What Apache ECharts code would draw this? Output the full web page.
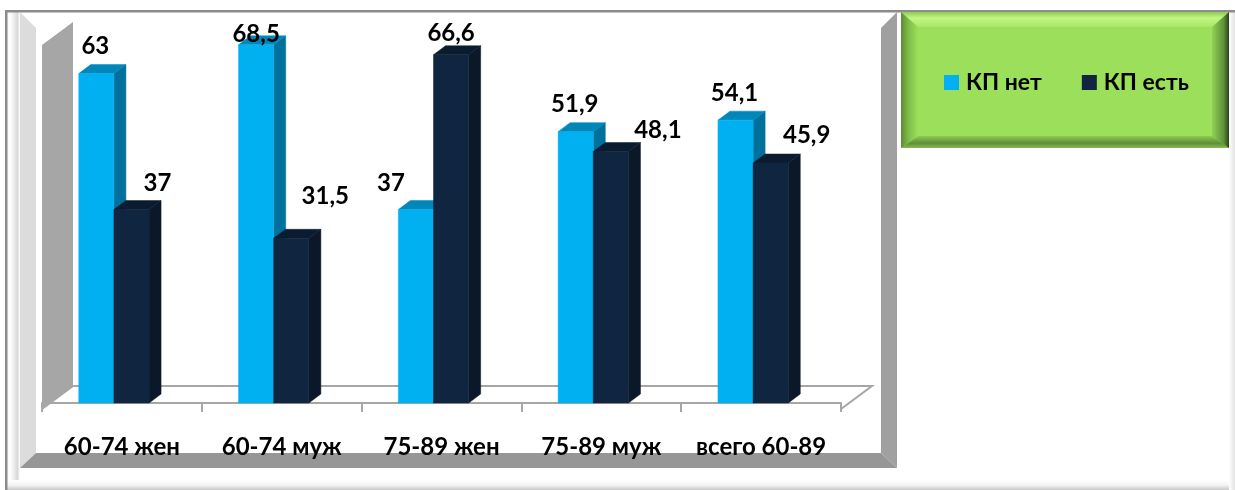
<!DOCTYPE html>
<html>
<head>
<meta charset="utf-8">
<style>html,body{margin:0;padding:0;background:#fff}#chart{width:1235px;height:490px}</style>
<script src="https://cdn.jsdelivr.net/npm/echarts@6/dist/echarts.min.js"></script>
</head>
<body>
<div id="chart"></div>
<script>
// Share of patients with and without the condition, by age group and sex
const categories = ['60-74 жен', '60-74 муж', '75-89 жен', '75-89 муж', 'всего 60-89'];
const seriesNames = ['КП нет', 'КП есть'];
const valuesNo = [63, 68.5, 37, 51.9, 54.1];
const valuesYes = [37, 31.5, 66.6, 48.1, 45.9];

// Hand placement of the value labels around each column
const labelShiftNo = [[-1, -27], [0, -11], [-25, -26], [-1, -27], [-1, -27]];
const labelShiftYes = [[26, -26], [34, -42], [0, -22], [47, -21], [36, -28]];

const FONT = 'Lato, "Noto Sans", sans-serif';
const DEPTH_X = 12, DEPTH_Y = 9;

// Extruded column: front face, lit top, shaded side and its value label
function columnRenderer(faces, side, shifts) {
  return function (params, api) {
    const idx = api.value(0), val = api.value(1);
    const top = api.coord([idx, val]);
    const base = api.coord([idx, 0]);
    const band = api.size([1, 0])[0];
    const w = band * 0.22;
    const seam = top[0] - band * 0.05;
    const x = side < 0 ? seam - w : seam;
    const yT = top[1], yB = base[1];
    const poly = (points, fill) => ({
      type: 'polygon', shape: { points }, style: { fill, stroke: fill, lineWidth: 0.5 }
    });
    const shift = shifts[params.dataIndexInside];
    return {
      type: 'group',
      children: [
        poly([[x + w, yT], [x + w + DEPTH_X, yT - DEPTH_Y], [x + w + DEPTH_X, yB - DEPTH_Y], [x + w, yB]], faces.side),
        poly([[x, yT], [x + w, yT], [x + w + DEPTH_X, yT - DEPTH_Y], [x + DEPTH_X, yT - DEPTH_Y]], faces.top),
        poly([[x, yT], [x + w, yT], [x + w, yB], [x, yB]], faces.front),
        {
          type: 'text',
          z2: 10,
          style: {
            text: String(val).replace('.', ','),
            x: x + w / 2 + shift[0],
            y: yT + shift[1],
            align: 'center',
            verticalAlign: 'middle',
            fill: '#000',
            font: 'bold 24px ' + FONT
          }
        }
      ]
    };
  };
}

const toPairs = (values) => values.map((v, i) => [i, v]);

const bevel = (points, fill) => ({ type: 'polygon', silent: true, shape: { points }, style: { fill } });
const hGrad = (stops) => ({ type: 'linear', x: 0, y: 0, x2: 1, y2: 0, colorStops: stops });
const vGrad = (stops) => ({ type: 'linear', x: 0, y: 0, x2: 0, y2: 1, colorStops: stops });

const chart = echarts.init(document.getElementById('chart'), null, { renderer: 'canvas' });
chart.setOption({
  animation: false,
  backgroundColor: '#ffffff',
  graphic: {
    elements: [
      // Outer frame with soft inner edges
      { type: 'rect', shape: { x: 7, y: 12, width: 13, height: 472 }, style: { fill: hGrad([
        { offset: 0, color: '#f4f4f4' }, { offset: 0.2, color: '#ffffff' }, { offset: 0.45, color: '#f2f2f2' },
        { offset: 0.8, color: '#d8d8d8' }, { offset: 1, color: '#ffffff' }]) } },
      { type: 'rect', shape: { x: 7, y: 480, width: 1228, height: 10 }, style: { fill: vGrad([
        { offset: 0, color: '#ffffff' }, { offset: 0.5, color: '#f4f4f4' }, { offset: 1, color: '#c8c8c8' }]) } },
      { type: 'rect', shape: { x: 1229, y: 12, width: 6, height: 478 }, style: { fill: hGrad([
        { offset: 0, color: '#ffffff' }, { offset: 1, color: '#e2e2e2' }]) } },
      { type: 'rect', shape: { x: 5, y: 10, width: 1230, height: 2.5 }, style: { fill: '#8c8c8c' } },
      { type: 'rect', shape: { x: 5, y: 10, width: 2.5, height: 480 }, style: { fill: '#8c8c8c' } },

      // Bevelled plate behind the plot
      bevel([[20, 12], [36, 28], [36, 453], [20, 468]], '#dcdcdc'),
      bevel([[20, 468], [36, 453], [881, 453], [897, 468]], '#969696'),
      bevel([[881, 28], [897, 12], [897, 468], [881, 453]], '#a0a0a0'),

      // Side wall and floor of the plot box
      bevel([[42, 45], [73, 22], [73, 386], [42, 409]], '#a6a6a6'),
      { type: 'polyline', silent: true, shape: { points: [[42, 409], [73, 386], [872, 386], [841, 409]] },
        style: { fill: null, stroke: '#a6a6a6', lineWidth: 2 } },

      // Legend plate
      { type: 'rect', shape: { x: 901, y: 12, width: 328, height: 136 }, style: { fill: '#9bdf5b' } },
      bevel([[901, 12], [1229, 12], [1212, 27], [918, 27]], vGrad([
        { offset: 0, color: '#8fc955' }, { offset: 0.4, color: '#c4f582' }, { offset: 1, color: '#a9e668' }])),
      bevel([[901, 148], [918, 136], [1212, 136], [1229, 148]], vGrad([
        { offset: 0, color: '#8ecb52' }, { offset: 0.6, color: '#5f8f37' }, { offset: 1, color: '#86b855' }])),
      bevel([[901, 12], [918, 27], [918, 136], [901, 148]], hGrad([
        { offset: 0, color: '#5d8c35' }, { offset: 0.5, color: '#84c04c' }, { offset: 1, color: '#9bdf5b' }])),
      bevel([[1229, 12], [1212, 27], [1212, 136], [1229, 148]], hGrad([
        { offset: 0, color: '#92d255' }, { offset: 0.7, color: '#5f8f37' }, { offset: 1, color: '#2c3f1c' }]))
    ]
  },
  legend: {
    left: 939,
    top: 66,
    icon: 'rect',
    itemWidth: 15,
    itemHeight: 15,
    itemGap: 40,
    selectedMode: false,
    data: seriesNames,
    textStyle: { color: '#000', fontFamily: FONT, fontWeight: 'bold', fontSize: 23, padding: [0, 0, 0, 2] }
  },
  grid: { left: 42, width: 799, top: 37, bottom: 87, containLabel: false },
  xAxis: {
    type: 'category',
    data: categories,
    offset: 7,
    boundaryGap: true,
    axisLine: { lineStyle: { color: '#a6a6a6', width: 2 } },
    axisTick: { show: true, length: 9, lineStyle: { color: '#a6a6a6', width: 2 } },
    axisLabel: { margin: 25, color: '#000', fontFamily: FONT, fontWeight: 'bold', fontSize: 24, interval: 0 }
  },
  yAxis: { type: 'value', min: 0, max: 70, show: false, splitLine: { show: false } },
  series: [
    {
      name: seriesNames[0],
      type: 'custom',
      clip: false,
      itemStyle: { color: '#00b0f0' },
      encode: { x: 0, y: 1 },
      data: toPairs(valuesNo),
      renderItem: columnRenderer({ front: '#00b0f0', top: '#0087ba', side: '#00719c' }, -1, labelShiftNo)
    },
    {
      name: seriesNames[1],
      type: 'custom',
      clip: false,
      itemStyle: { color: '#10253f' },
      encode: { x: 0, y: 1 },
      data: toPairs(valuesYes),
      renderItem: columnRenderer({ front: '#10253f', top: '#0c1c30', side: '#0b1829' }, 1, labelShiftYes)
    }
  ]
});
</script>
</body>
</html>
